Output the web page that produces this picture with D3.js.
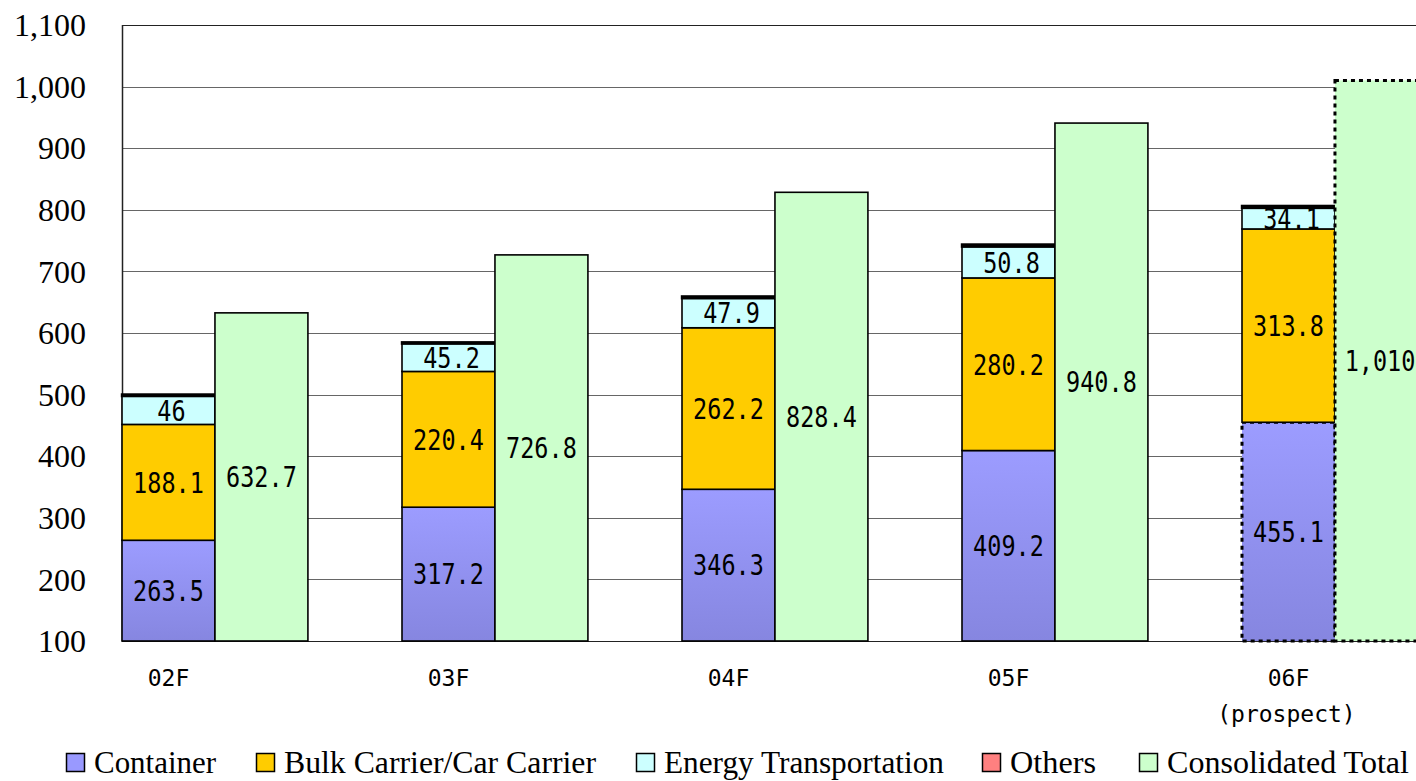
<!DOCTYPE html>
<html>
<head>
<meta charset="utf-8">
<script src="https://cdn.jsdelivr.net/npm/d3@7"></script>
<style>
  html, body { margin: 0; padding: 0; background: #fff; overflow: hidden; }
  svg { display: block; }
</style>
</head>
<body>
<div id="chart"></div>
<script>
// data
const years = ['02F', '03F', '04F', '05F', '06F'];
const yearNotes = ['', '', '', '', '(prospect)'];
const container = [263.5, 317.2, 346.3, 409.2, 455.1];
const bulkCar = [188.1, 220.4, 262.2, 280.2, 313.8];
const energy = [46, 45.2, 47.9, 50.8, 34.1];
const others = [2.6, 2.1, 3.0, 3.5, 3.3];
const consolidated = [632.7, 726.8, 828.4, 940.8, 1010];
const yTicks = [100, 200, 300, 400, 500, 600, 700, 800, 900, 1000, 1100];

const WIDTH = 1416;
const HEIGHT = 781;
const PLOT_LEFT = 122;
const PLOT_TOP = 25;
const PLOT_BOTTOM = 641;

const seriesNames = ['Container', 'Bulk Carrier/Car Carrier', 'Energy Transportation', 'Others', 'Consolidated Total'];
const seriesColors = ['#9999ff', '#ffcc00', '#ccffff', '#ff8080', '#ccffcc'];

const fmt = d3.format(',');

const svg = d3.select('#chart')
  .append('svg')
  .attr('width', WIDTH)
  .attr('height', HEIGHT);

// gradient for container bars
const defs = svg.append('defs');
const grad = defs.append('linearGradient')
  .attr('id', 'contGrad')
  .attr('x1', 0).attr('y1', 0).attr('x2', 0).attr('y2', 1);
grad.append('stop').attr('offset', '0%').attr('stop-color', '#9c9cff');
grad.append('stop').attr('offset', '100%').attr('stop-color', '#8686e0');

const y = d3.scaleLinear().domain([100, 1100]).range([PLOT_BOTTOM, PLOT_TOP]);

// each group = stacked bar + consolidated bar, gap after
const x = d3.scaleBand()
  .domain(years)
  .range([PLOT_LEFT, PLOT_LEFT + 280 * (5 - 0.336)])
  .paddingInner(0.336)
  .paddingOuter(0)
  .align(0);
const sub = d3.scaleBand()
  .domain(['stack', 'total'])
  .range([0, x.bandwidth()]);

// grid lines
svg.append('g')
  .selectAll('line')
  .data(yTicks)
  .enter()
  .append('line')
  .attr('x1', PLOT_LEFT)
  .attr('x2', WIDTH)
  .attr('y1', d => Math.round(y(d)) + 0.5)
  .attr('y2', d => Math.round(y(d)) + 0.5)
  .attr('stroke', d => (d === 100 || d === 1100) ? '#222' : '#666')
  .attr('stroke-width', 1.2);

// left axis line
svg.append('line')
  .attr('x1', PLOT_LEFT + 0.5).attr('x2', PLOT_LEFT + 0.5)
  .attr('y1', PLOT_TOP).attr('y2', PLOT_BOTTOM)
  .attr('stroke', '#222')
  .attr('stroke-width', 1.5);

// y tick labels
svg.append('g')
  .selectAll('text')
  .data(yTicks)
  .enter()
  .append('text')
  .attr('x', 86)
  .attr('y', d => y(d))
  .attr('dy', '0.35em')
  .attr('text-anchor', 'end')
  .style('font-family', '"Liberation Serif", "Times New Roman", serif')
  .style('font-size', '32px')
  .text(d => fmt(d));

// stacked segments (axis starts at 100, so clamp the base)
const stackRows = years.map((yr, i) => ({
  year: yr, container: container[i], bulk: bulkCar[i], energy: energy[i], others: others[i]
}));
const keys = ['container', 'bulk', 'energy', 'others'];
const stack = d3.stack().keys(keys)(stackRows);

const fills = ['url(#contGrad)', seriesColors[1], seriesColors[2], seriesColors[3]];

stack.forEach((layer, li) => {
  svg.append('g')
    .selectAll('rect')
    .data(layer)
    .enter()
    .append('rect')
    .attr('x', d => x(d.data.year) + sub('stack'))
    .attr('width', sub.bandwidth())
    .attr('y', d => y(d[1]))
    .attr('height', d => y(Math.max(d[0], 100)) - y(d[1]))
    .attr('fill', fills[li])
    .attr('stroke', '#000')
    .attr('stroke-dasharray', (d, i) => (li === 0 && i === 4) ? '4,4' : null)
    .attr('stroke-width', (d, i) => (li === 0 && i === 4) ? 3 : (li === 3 ? 2.4 : 1.6));
});

// consolidated bars
svg.append('g')
  .selectAll('rect')
  .data(years)
  .enter()
  .append('rect')
  .attr('x', d => x(d) + sub('total'))
  .attr('width', sub.bandwidth())
  .attr('y', (d, i) => y(consolidated[i]))
  .attr('height', (d, i) => y(100) - y(consolidated[i]))
  .attr('fill', seriesColors[4])
  .attr('stroke', '#000')
  .attr('stroke-dasharray', (d, i) => i === 4 ? '4,4' : null)
  .attr('stroke-width', (d, i) => i === 4 ? 3 : 1.6);

// data labels
const monoFont = '"DejaVu Sans Mono", monospace';
function addLabel(cx, cy, txt) {
  svg.append('text')
    .attr('transform', `translate(${cx},${cy}) scale(1,1.22)`)
    .attr('text-anchor', 'middle')
    .attr('dy', '0.36em')
    .style('font-family', monoFont)
    .style('font-size', '23.5px')
    .style('fill', '#000')
    .text(txt);
}

const labelVals = [container, bulkCar, energy];
labelVals.forEach((vals, li) => {
  stack[li].forEach((d, i) => {
    const cx = x(d.data.year) + sub('stack') + sub.bandwidth() / 2 + (li === 2 ? 3 : 0);
    const cy = (y(Math.max(d[0], 100)) + y(d[1])) / 2;
    addLabel(cx, cy, fmt(vals[i]));
  });
});
consolidated.forEach((v, i) => {
  let cx = x(years[i]) + sub('total') + sub.bandwidth() / 2;
  if (cx + 36 > WIDTH) cx = WIDTH - 36;
  const cy = (y(100) + y(v)) / 2;
  addLabel(cx, cy, fmt(v));
});

// x category labels
years.forEach((yr, i) => {
  const cx = x(yr) + sub('stack') + sub.bandwidth() / 2;
  svg.append('text')
    .attr('x', cx)
    .attr('y', 678)
    .attr('dy', '0.36em')
    .attr('text-anchor', 'middle')
    .style('font-family', monoFont)
    .style('font-size', '23px')
    .text(yr);
  if (yearNotes[i]) {
    svg.append('text')
      .attr('x', cx - 2)
      .attr('y', 714)
      .attr('dy', '0.36em')
      .attr('text-anchor', 'middle')
      .style('font-family', monoFont)
      .style('font-size', '23px')
      .text(yearNotes[i]);
  }
});

// legend
const legendX = [66, 256, 636, 982, 1139];
const legendTextW = [122, 312, 280, 86, 242];
const legend = svg.append('g').attr('id', 'legend');
legend.selectAll('rect')
  .data(seriesNames)
  .enter()
  .append('rect')
  .attr('x', (d, i) => legendX[i] + 0.5)
  .attr('y', 753.5)
  .attr('width', 18)
  .attr('height', 18)
  .attr('fill', (d, i) => seriesColors[i])
  .attr('stroke', '#000')
  .attr('stroke-width', 1.5);
legend.selectAll('text')
  .data(seriesNames)
  .enter()
  .append('text')
  .attr('x', (d, i) => legendX[i] + 28)
  .attr('y', 773)
  .attr('textLength', (d, i) => legendTextW[i])
  .attr('lengthAdjust', 'spacingAndGlyphs')
  .style('font-family', '"Liberation Serif", "Times New Roman", serif')
  .style('font-size', '32px')
  .text(d => d);
</script>
</body>
</html>
